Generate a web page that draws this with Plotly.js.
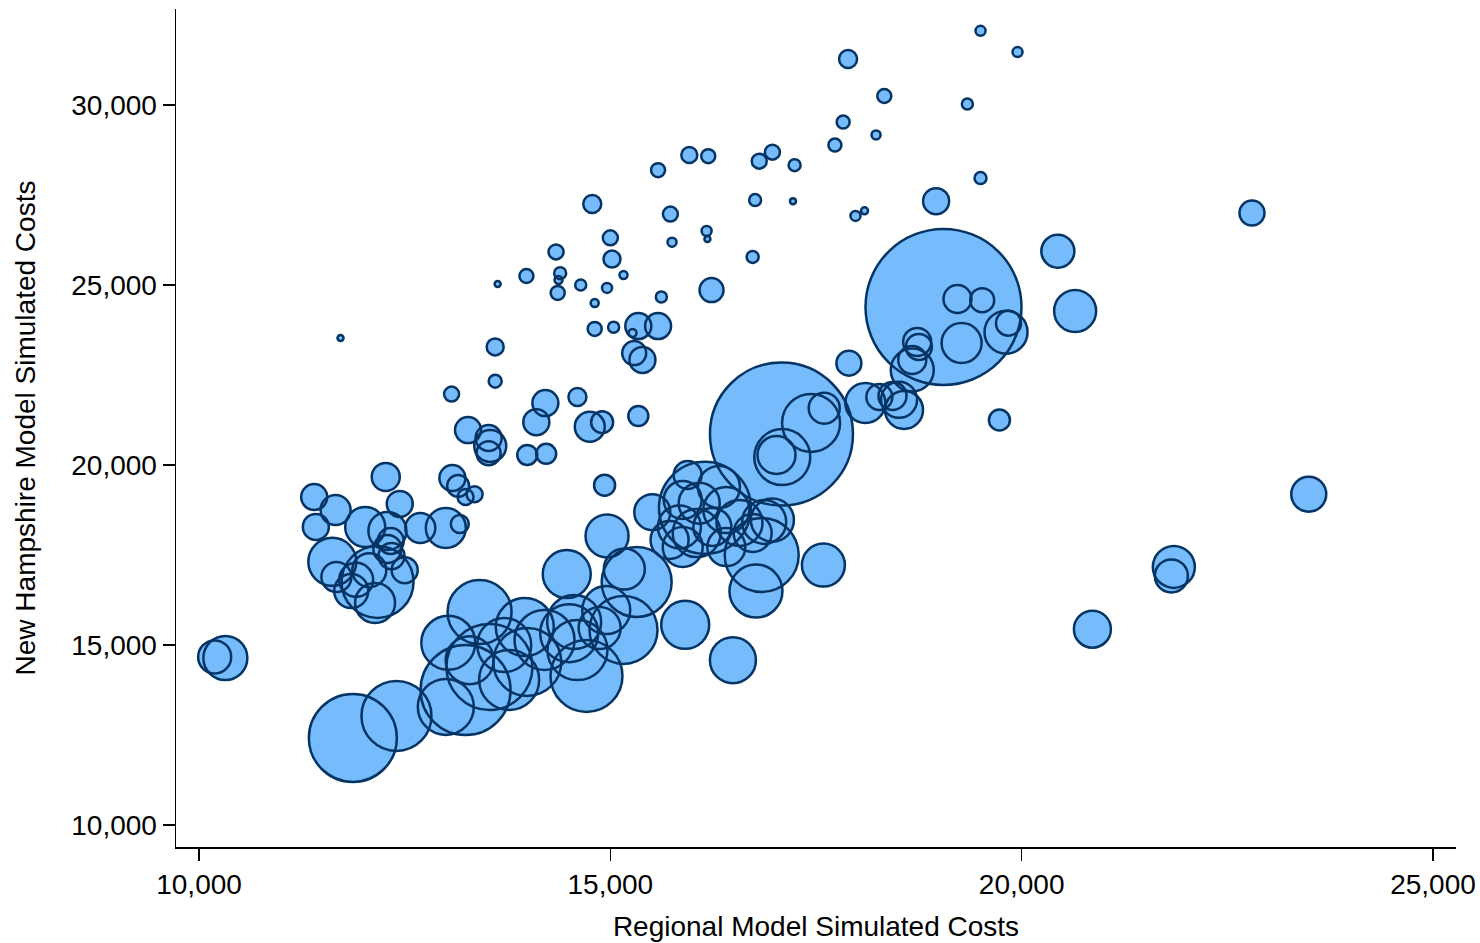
<!DOCTYPE html>
<html>
<head>
<meta charset="utf-8">
<script src="https://cdn.plot.ly/plotly-3.0.1.min.js"></script>
<style>
  html, body { margin: 0; padding: 0; background: #ffffff; }
  #chart { width: 1480px; height: 943px; }
</style>
</head>
<body>
<div id="chart"></div>
<script>
// Simulated cost per plan: regional model (x) vs New Hampshire model (y),
// bubble area proportional to plan weight.
const regionalCost = [
  19500, 19950, 17890, 18330, 19340, 17830, 18230, 17730, 16970, 16810,
  17240, 15960, 16190, 15580, 19500, 16760, 17220, 18960, 17980, 18090,
  14780, 15730, 15000, 15020, 16170, 16180, 15750, 14340, 16730, 13630,
  13980, 14390, 14370, 14360, 14640, 14960, 15160, 14810, 15620, 16230,
  14810, 15040, 15340, 15580, 15270, 15290, 15390, 13600, 11720, 13600,
  13070, 14210, 14100, 14600, 14750, 14900, 15340, 13990, 14220, 14930,
  13270, 13520, 13540, 13520, 11400, 11660, 11420, 12270, 12440, 12020,
  12290, 12690, 13000, 13170, 13080, 13150, 13240, 13350, 11620, 11670,
  11910, 12170, 12330, 12290, 12340, 12500, 12140, 12070, 11850, 10190,
  10320, 11870, 12400, 13030, 13410, 13000, 13240, 13530, 13960, 13990,
  13770, 14200, 13290, 13710, 14470, 14710, 14600, 14560, 14870, 14950,
  15160, 14960, 15170, 15320, 15510, 15910, 16490, 16770, 16870, 16840,
  17590, 16150, 15940, 16320, 15880, 16080, 16410, 15840, 16050, 16240,
  16570, 15880, 16410, 16730, 16970, 15720, 14500, 17080, 19050, 17600,
  17440, 17020, 17090, 17900, 18100, 18270, 18430, 18510, 18570, 18670,
  18670, 18730, 18750, 19220, 19520, 19810, 19840, 19270, 19730, 22800,
  20440, 20650, 23490, 21850, 21820, 20860
];

const nhCost = [
  32060, 31470, 31280, 30250, 30030, 29530, 29170, 28890, 28690, 28440,
  28330, 28610, 28580, 28190, 27970, 27360, 27330, 27330, 26920, 27060,
  27250, 26970, 26310, 25720, 26500, 26280, 26190, 25920, 25780, 25030,
  25250, 25330, 25140, 24780, 25000, 24920, 25280, 24500, 24670, 24860,
  23780, 23830, 23860, 23860, 23670, 23110, 22920, 23280, 23530, 22330,
  21970, 21720, 21190, 21890, 21060, 21190, 21360, 20280, 20310, 19440,
  20970, 20750, 20530, 20330, 19110, 18750, 18280, 19670, 18920, 18280,
  18170, 18250, 18250, 18360, 19640, 19420, 19110, 19190, 17310, 16890,
  16810, 16750, 17890, 17670, 17470, 17080, 16170, 17080, 16500, 14670,
  14640, 12420, 13030, 15060, 15920, 13280, 13750, 14390, 15500, 14530,
  14030, 15140, 14580, 15000, 16970, 14140, 14860, 15640, 15470, 15970,
  15420, 18030, 17110, 16750, 18690, 15560, 14580, 16500, 18420, 17500,
  17220, 18810, 19720, 19390, 19030, 18940, 18750, 18280, 18110, 18280,
  18390, 17720, 17720, 18110, 18470, 17920, 15330, 20860, 24390, 21580,
  21170, 20280, 20220, 22830, 21720, 21890, 21920, 21810, 21530, 22640,
  22920, 23420, 23280, 24610, 24580, 23690, 23940, 23390, 21250, 27000,
  25940, 24280, 19190, 17170, 16920, 15440
];

const planWeight = [
  10, 10, 32.4, 19.6, 12.1, 16.9, 8.1, 16.9, 22.5, 22.5,
  14.4, 25.6, 19.6, 19.6, 14.4, 14.4, 3.6, 67.6, 10, 4.9,
  32.4, 22.5, 22.5, 28.9, 10, 3.6, 8.1, 22.5, 14.4, 3.6,
  19.6, 14.4, 6.4, 19.6, 12.1, 10, 6.4, 6.4, 12.1, 57.6,
  19.6, 12.1, 67.6, 67.6, 6.4, 57.6, 67.6, 28.9, 3.6, 16.9,
  22.5, 67.6, 67.6, 32.4, 90, 48.4, 40, 40, 40, 44.1,
  67.6, 67.6, 102.4, 57.6, 67.6, 90, 67.6, 78.4, 67.6, 160,
  144.4, 90, 160, 32.4, 67.6, 48.4, 25.6, 25.6, 230.4, 90,
  115.6, 518.4, 67.6, 78.4, 67.6, 67.6, 160, 115.6, 115.6, 108.9,
  193.6, 774.4, 490, 291.6, 409.6, 313.6, 810, 739.6, 336.4, 462.4,
  360, 360, 230.4, 291.6, 230.4, 518.4, 360, 291.6, 176.4, 230.4,
  462.4, 184.9, 168.1, 490, 129.6, 230.4, 211.6, 280.9, 193.6, 547.6,
  184.9, 846.4, 78.4, 176.4, 144.4, 168.1, 211.6, 184.9, 230.4, 144.4,
  211.6, 160, 144.4, 144.4, 184.9, 144.4, 336.4, 2044.9, 2433.6, 96.1,
  336.4, 144.4, 313.6, 62.5, 160, 67.6, 78.4, 129.6, 144.4, 184.9,
  78.4, 78.4, 67.6, 78.4, 57.6, 184.9, 62.5, 160, 44.1, 62.5,
  108.9, 176.4, 122.5, 176.4, 108.9, 136.9
];

const xTicks = [10000, 15000, 20000, 25000];
const yTicks = [10000, 15000, 20000, 25000, 30000];

const FILL = 'rgb(118,188,252)';
const EDGE = 'rgb(4,52,100)';
const FONT = { family: 'Liberation Sans, Arial, sans-serif', size: 28, color: '#000000' };

const sizing = { sizemode: 'area', sizeref: 0.2 };

// Fills first, then every outline on top so all rims stay visible.
const fills = {
  type: 'scatter', mode: 'markers',
  x: regionalCost, y: nhCost,
  marker: Object.assign({ size: planWeight, color: FILL, line: { width: 0 }, opacity: 1 }, sizing),
  hoverinfo: 'skip', showlegend: false, cliponaxis: false
};
const rims = {
  type: 'scatter', mode: 'markers',
  x: regionalCost, y: nhCost,
  marker: Object.assign({ size: planWeight, color: 'rgba(0,0,0,0)', opacity: 1, line: { width: 2.5, color: EDGE } }, sizing),
  hoverinfo: 'skip', showlegend: false, cliponaxis: false
};

const axisBase = {
  showgrid: false, zeroline: false, showline: true,
  linecolor: '#000000', linewidth: 1.5,
  ticks: 'outside', ticklen: 12, tickwidth: 1.5, tickcolor: '#000000',
  tickformat: ',d', tickfont: FONT, automargin: false
};

const layout = {
  width: 1480, height: 943,
  margin: { l: 176, r: 24, t: 9, b: 96 },
  paper_bgcolor: '#ffffff', plot_bgcolor: '#ffffff',
  font: FONT,
  xaxis: Object.assign({}, axisBase, {
    range: [9720, 25280], tickvals: xTicks,
    title: { text: 'Regional Model Simulated Costs', font: FONT, standoff: 17 }
  }),
  yaxis: Object.assign({}, axisBase, {
    range: [9389, 32667], tickvals: yTicks,
    title: { text: 'New Hampshire Model Simulated Costs', font: FONT, standoff: 27 }
  })
};

Plotly.newPlot('chart', [fills, rims], layout, { staticPlot: true, displayModeBar: false });
</script>
</body>
</html>
